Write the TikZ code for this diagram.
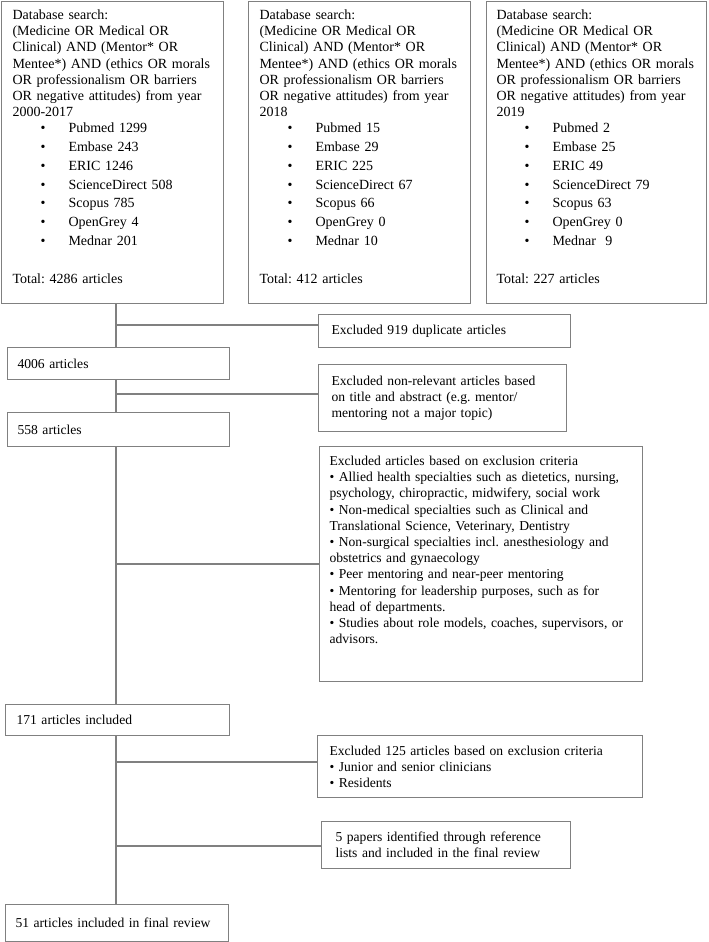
\documentclass[tikz,border=0pt]{standalone}
\usepackage{fontspec}
\setmainfont{Liberation Serif}
\usetikzlibrary{calc}

% one database line in the search boxes
\newcommand{\srcitem}[1]{\hspace*{28pt}\makebox[28pt][l]{\textbullet}#1}

\begin{document}
\begin{tikzpicture}[x=1pt,y=-1pt]
    % `search' is used for the three database boxes at the top.
    % `stage' is used for the boxes on the main line and the side boxes.
    % `link' is used for the grey connecting lines.
    \tikzstyle{stage} = [draw=gray,line width=1.1pt,anchor=north west,align=left,
                         font=\fontsize{13.6}{16.2}\selectfont\frenchspacing]
    \tikzstyle{search} = [stage,font=\fontsize{14}{16.2}\selectfont\frenchspacing,
                          inner ysep=4pt,text height=14pt,text depth=280pt]
    \tikzstyle{link} = [draw=gray,line width=1.1pt]
    \useasboundingbox (0,0) rectangle (709,942);
    %
    \node[search,text width=200pt,inner xsep=11pt] (dbA) at (1,1) {Database search:\\
      (Medicine OR Medical OR\\ Clinical) AND (Mentor* OR\\ Mentee*) AND (ethics OR morals\\
      OR professionalism OR barriers\\ OR negative attitudes) from year\\ 2000-2017\\
      \srcitem{Pubmed 1299}\\[2.5pt] \srcitem{Embase 243}\\[2.5pt] \srcitem{ERIC 1246}\\[2.5pt]
      \srcitem{ScienceDirect 508}\\[2.5pt] \srcitem{Scopus 785}\\[2.5pt] \srcitem{OpenGrey 4}\\[2.5pt]
      \srcitem{Mednar 201}\\[21.8pt] Total: 4286 articles};
    \node[search,text width=200pt,inner xsep=11pt] (dbB) at (248,1) {Database search:\\
      (Medicine OR Medical OR\\ Clinical) AND (Mentor* OR\\ Mentee*) AND (ethics OR morals\\
      OR professionalism OR barriers\\ OR negative attitudes) from year\\ 2018\\
      \srcitem{Pubmed 15}\\[2.5pt] \srcitem{Embase 29}\\[2.5pt] \srcitem{ERIC 225}\\[2.5pt]
      \srcitem{ScienceDirect 67}\\[2.5pt] \srcitem{Scopus 66}\\[2.5pt] \srcitem{OpenGrey 0}\\[2.5pt]
      \srcitem{Mednar 10}\\[21.8pt] Total: 412 articles};
    \node[search,text width=200pt,inner xsep=10pt] (dbC) at (486,1) {Database search:\\
      (Medicine OR Medical OR\\ Clinical) AND (Mentor* OR\\ Mentee*) AND (ethics OR morals\\
      OR professionalism OR barriers\\ OR negative attitudes) from year\\ 2019\\
      \srcitem{Pubmed 2}\\[2.5pt] \srcitem{Embase 25}\\[2.5pt] \srcitem{ERIC 49}\\[2.5pt]
      \srcitem{ScienceDirect 79}\\[2.5pt] \srcitem{Scopus 63}\\[2.5pt] \srcitem{OpenGrey 0}\\[2.5pt]
      \srcitem{Mednar\ \ 9}\\[21.8pt] Total: 227 articles};
    %
    \node[stage,text width=202pt,inner xsep=10pt,minimum height=32pt] (n4006) at (7,347) {4006 articles};
    \node[stage,text width=202pt,inner xsep=10pt,minimum height=34pt] (n558) at (7,412) {558 articles};
    \node[stage,text width=202pt,inner xsep=11pt,minimum height=31pt] (n171) at (5,704) {171 articles included};
    \node[stage,text width=203pt,inner xsep=10pt,minimum height=37pt] (n51) at (5,904) {51 articles included in final review};
    %
    \node[stage,text width=226pt,inner xsep=13pt,minimum height=33pt] (exdup) at (318,314) {Excluded 919 duplicate articles};
    \node[stage,text width=222pt,inner xsep=13pt,minimum height=67pt] (exrel) at (318,364) {Excluded non-relevant articles based\\
      on title and abstract (e.g. mentor/\\ mentoring not a major topic)};
    \node[stage,text width=303pt,inner xsep=10pt,inner ysep=4pt,text height=15pt,text depth=212pt] (excrit) at (319,446) {Excluded articles based on exclusion criteria\\
      \textbullet{} Allied health specialties such as dietetics, nursing,\\ psychology, chiropractic, midwifery, social work\\
      \textbullet{} Non-medical specialties such as Clinical and\\ Translational Science, Veterinary, Dentistry\\
      \textbullet{} Non-surgical specialties incl. anesthesiology and\\ obstetrics and gynaecology\\
      \textbullet{} Peer mentoring and near-peer mentoring\\
      \textbullet{} Mentoring for leadership purposes, such as for\\ head of departments.\\
      \textbullet{} Studies about role models, coaches, supervisors, or\\ advisors.};
    \node[stage,text width=301pt,inner xsep=12pt,minimum height=62pt] (ex125) at (317,735) {Excluded 125 articles based on exclusion criteria\\
      \textbullet{} Junior and senior clinicians\\ \textbullet{} Residents};
    \node[stage,text width=221pt,inner xsep=14pt,minimum height=47pt] (refadd) at (321,821) {5 papers identified through reference\\
      lists and included in the final review};
    %
    % Draw lines.
    \coordinate (j1) at (116,325);
    \coordinate (j2) at (116,394);
    \coordinate (j3) at (116,564);
    \coordinate (j4) at (116,762);
    \coordinate (j5) at (116,846);
    \draw[link] (dbA.south -| j1) -- (n4006.north -| j1)  (n4006.south -| j1) -- (n558.north -| j1)
                (n558.south -| j1) -- (n171.north -| j1)  (n171.south -| j1) -- (n51.north -| j1);
    \draw[link] (j1) -- (j1 -| exdup.west)  (j2) -- (j2 -| exrel.west)  (j3) -- (j3 -| excrit.west)
                (j4) -- (j4 -| ex125.west)  (j5) -- (j5 -| refadd.west);
\end{tikzpicture}
\end{document}
